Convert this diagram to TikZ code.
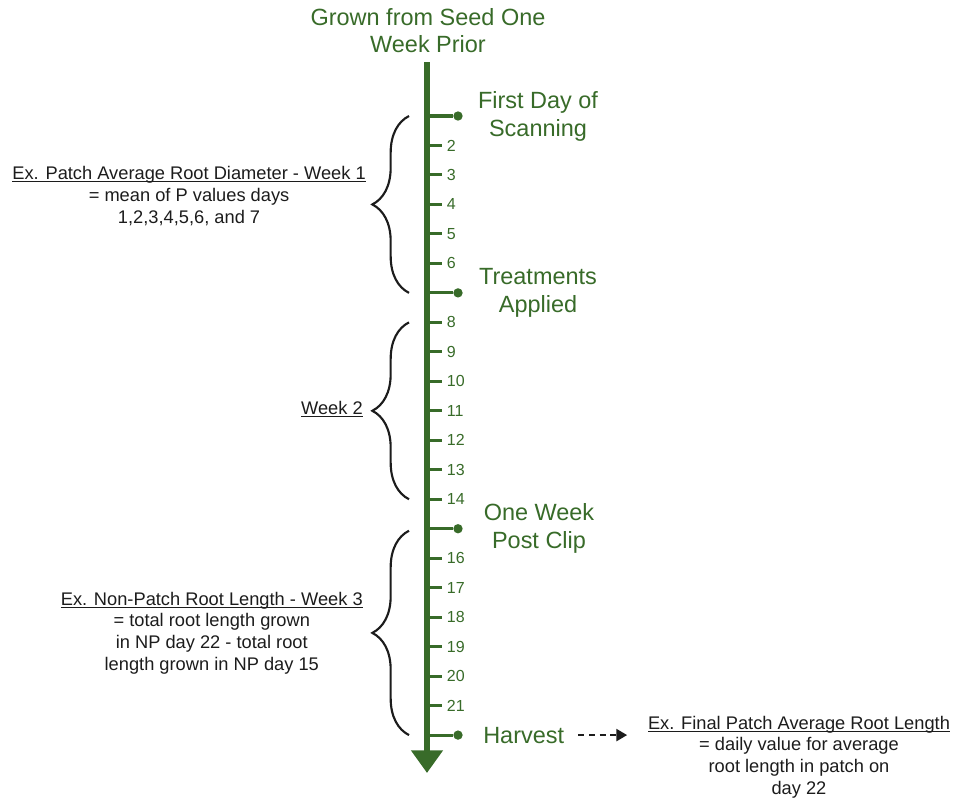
\documentclass[tikz,border=0pt]{standalone}
\usepackage{fontspec}
\setmainfont{Liberation Sans}
\usetikzlibrary{positioning, arrows.meta, calc, decorations.pathreplacing}
\definecolor{leaf}{HTML}{386B29}
\definecolor{ink}{HTML}{1C1C1C}
\newcommand{\strichunter}[1]{\setbox0\hbox{#1}\rlap{\rule[-1.8pt]{\wd0}{0.6pt}}\box0}

\begin{document}
\begin{tikzpicture}[x=0.75pt, y=-0.75pt,
      zeitachse/.style={leaf, line width=5.2pt, -{Triangle[length=17pt, width=23pt]}},
      strich/.style={leaf, line width=2.3pt},
      punkt/.style={circle, fill=leaf, inner sep=0pt, minimum size=7pt},
      tag/.style={text=leaf, font=\fontsize{12}{14}\selectfont, inner sep=0pt, anchor=west, xshift=2.5pt},
      ereignis/.style={text=leaf, align=center, font=\fontsize{17.6}{21}\selectfont, inner sep=0pt},
      notiz/.style={text=ink, align=center, font=\fontsize{13.7}{16.2}\selectfont, inner sep=0pt},
      klammer/.style={draw=ink, line width=1.6pt, decorate, decoration={brace, amplitude=27.5pt}},
      pfeil/.style={-{Triangle[length=8pt, width=9pt]}, ink, line width=1.5pt, dash pattern=on 4.5pt off 3.5pt}]
    \useasboundingbox (0,0) rectangle (957,803);
    % Zeitachse
    \node[ereignis, font=\fontsize{17.6}{20.3}\selectfont] (titel) at (428,31) {Grown from Seed One\\Week Prior};
    \coordinate (start) at (427,62);
    \coordinate (ende) at (427,773);
    \draw[zeitachse] (start) -- (ende);
    \foreach \d in {1,...,22}
      \coordinate (d\d) at (427,{116+(\d-1)*29.48});
    \foreach \d in {2,3,4,5,6,8,9,10,11,12,13,14,16,17,18,19,20,21}
      \draw[strich] (d\d) -- ++(15,0) node[tag] (n\d) {\d};
    % Ereignisse
    \foreach \d in {1,7,15,22} {
      \node[punkt] (p\d) at ($(d\d)+(31,0)$) {};
      \draw[strich] (d\d) -- (p\d);
    }
    \node[ereignis] (scan) at ($(p1)+(80,0)$) {First Day of\\Scanning};
    \node[ereignis] (behandlung) at ($(p7)+(80,0)$) {Treatments\\Applied};
    \node[ereignis] (schnitt) at ($(p15)+(81,0)$) {One Week\\Post Clip};
    \node[ereignis, anchor=west] (ernte) at ($(p22)+(25,0)$) {Harvest};
    % Klammern und Beispiele
    \draw[klammer] ($(d7)+(-18,0)$) -- ($(d1)+(-18,0)$);
    \draw[klammer] ($(d14)+(-18,0)$) -- ($(d8)+(-18,0)$);
    \draw[klammer] ($(d22)+(-18,0)$) -- ($(d15)+(-18,2)$);
    \node[notiz, anchor=east] (woche1) at (366,196)
      {\strichunter{Ex. Patch Average Root Diameter - Week 1}\\= mean of P values days\\1,2,3,4,5,6, and 7};
    \node[notiz, anchor=east] (woche2) at (363,409) {\strichunter{Week 2}};
    \node[notiz, anchor=east] (woche3) at (363,633)
      {\strichunter{Ex. Non-Patch Root Length - Week 3}\\= total root length grown\\in NP day 22 - total root\\length grown in NP day 15};
    \node[notiz] (ergebnis) at (799,757)
      {\strichunter{Ex. Final Patch Average Root Length}\\= daily value for average\\root length in patch on\\day 22};
    \draw[pfeil, shorten <=10.5pt, shorten >=15.5pt] (ernte.east) -- (ernte.east -| ergebnis.west);
\end{tikzpicture}
\end{document}
